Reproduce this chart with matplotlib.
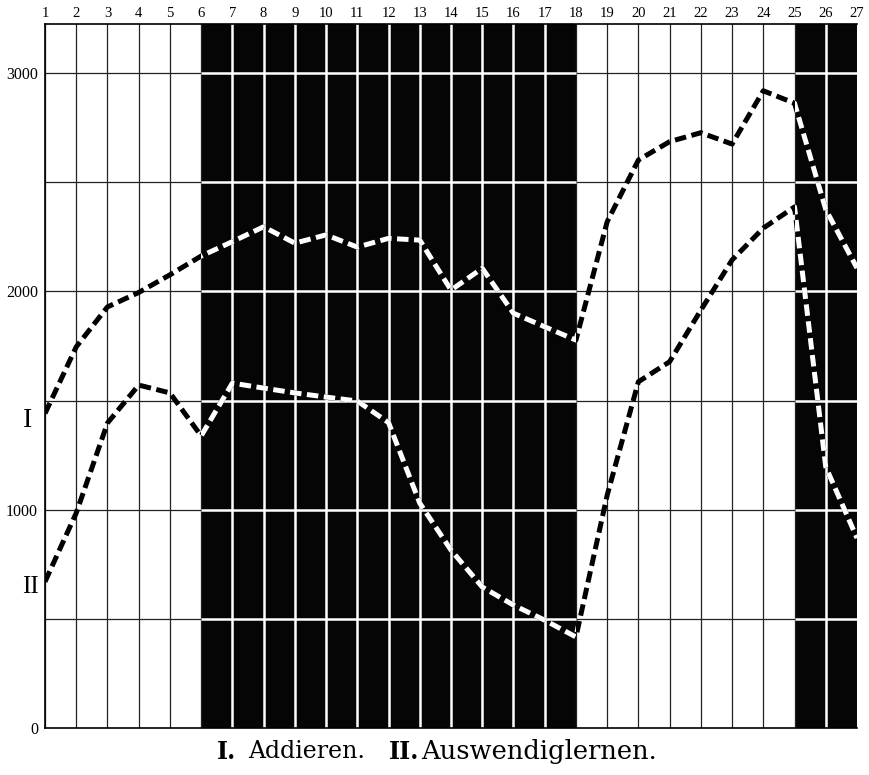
import matplotlib
matplotlib.use("Agg")
import matplotlib.pyplot as plt
from matplotlib.patches import Rectangle

# ---- data ----
days = list(range(1, 28))
addieren = [1441, 1746, 1929, 1995, 2076, 2162, 2228, 2296, 2221, 2259, 2203, 2243, 2235,
            2006, 2106, 1900, 1838, 1777, 2319, 2602, 2686, 2727, 2675, 2919, 2862, 2375, 2107]
auswendig = [670, 985, 1397, 1571, 1535, 1338, 1580, 1557, 1535, 1516, 1498, 1399, 1030,
             815, 646, 563, 494, 417, 1066, 1586, 1678, 1914, 2144, 2290, 2387, 1196, 870]
dark_spans = [(6, 18), (25, 27)]
light_spans = [(1, 6), (18, 25)]
h_lines = [500, 1000, 1500, 2000, 2500, 3000]
y_ticks = [0, 1000, 2000, 3000]
y_max = 3225
caption_1 = ("I.", "Addieren.")
caption_2 = ("II.", "Auswendiglernen.")

plt.rcParams['font.family'] = ['Liberation Serif', 'DejaVu Serif']

fig = plt.figure(figsize=(8.69, 7.75), dpi=100)
ax = fig.add_axes([45/869, 1-728/775, (857-45)/869, (728-24)/775])
ax.set_xlim(days[0], days[-1])
ax.set_ylim(0, y_max)

# dark spans
for a, b in dark_spans:
    ax.axvspan(a, b, color='#050505', zorder=0, lw=0)

# vertical grid
for d in days:
    dark = any(a < d < b for a, b in dark_spans)
    if dark:
        ax.axvline(d, color='white', lw=1.8, zorder=1)
    else:
        ax.axvline(d, color='#222222', lw=0.9, zorder=1)

# horizontal grid
for h in h_lines:
    for a, b in light_spans:
        ax.hlines(h, a, b, color='#222222', lw=0.9, zorder=1)
    for a, b in dark_spans:
        ax.hlines(h, a, b, color='white', lw=1.8, zorder=1)

# series: black dashes on light, white dashes on dark
for series in (addieren, auswendig):
    ax.plot(days, series, color='black', lw=3.6, dashes=(2.3, 1.1), zorder=3,
            dash_capstyle='butt')
    for a, b in dark_spans:
        ln, = ax.plot(days, series, color='white', lw=3.6, dashes=(2.3, 1.1), zorder=4,
                      dash_capstyle='butt')
        rect = Rectangle((a, 0), b - a, y_max, transform=ax.transData)
        ln.set_clip_path(rect)

# axes styling
for s in ['left', 'bottom', 'top']:
    ax.spines[s].set_color('black')
    ax.spines[s].set_linewidth(1.2)
ax.spines['right'].set_visible(False)

ax.xaxis.tick_top()
ax.set_xticks(days)
ax.set_xticklabels([str(d) for d in days], fontsize=10.5)
ax.tick_params(axis='x', length=0, pad=3)
ax.set_yticks(y_ticks)
ax.set_yticklabels([str(v) for v in y_ticks], fontsize=11.5)
ax.tick_params(axis='y', length=0, pad=5)

# series labels
fig.text(28/869, 1-420/775, 'I', fontsize=20, ha='center', va='center')
fig.text(30/869, 1-587/775, 'II', fontsize=18, ha='center', va='center')

# caption
cap_font = ['DejaVu Serif']
y_cap = 1-752/775
fig.text(217/869, y_cap, caption_1[0], fontsize=17, fontweight='bold', ha='left', va='center', family=cap_font)
fig.text(248/869, y_cap, caption_1[1], fontsize=17, ha='left', va='center', family=cap_font)
fig.text(389/869, y_cap, caption_2[0], fontsize=17, fontweight='bold', ha='left', va='center', family=cap_font)
fig.text(421/869, y_cap, caption_2[1], fontsize=18.5, ha='left', va='center', family=cap_font)

fig.savefig('out.png', dpi=100, facecolor='white')
